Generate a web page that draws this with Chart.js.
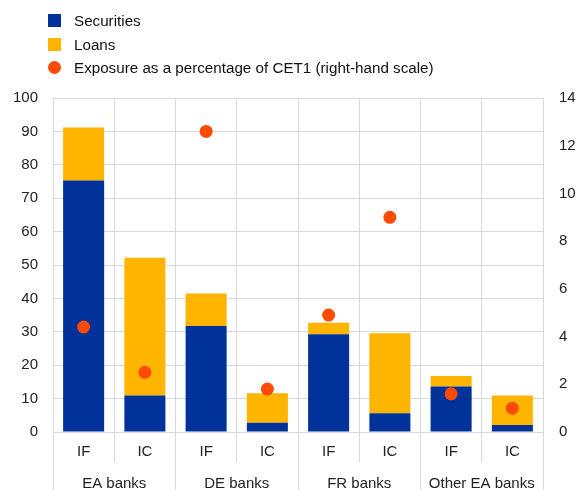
<!DOCTYPE html>
<html>
<head>
<meta charset="utf-8">
<script src="https://cdn.jsdelivr.net/npm/chart.js@4"></script>
<style>
	body{margin:0;background:#fff;}
	#wrap{position:relative;width:579px;height:490px;}
	#leyenda{position:absolute;left:48px;top:9px;font-family:"Liberation Sans",Arial,sans-serif;font-size:15.2px;color:#111;}
	.fila{height:23.5px;display:flex;align-items:center;}
	.caja{width:13px;height:13px;margin-right:13px;}
	.punto{width:13px;height:13px;border-radius:50%;margin-right:13px;}
</style>
</head>
<body>
<div id="wrap">
	<canvas id="canva" width="579" height="490"></canvas>
	<div id="leyenda">
		<div class="fila"><div class="caja" style="background:#003299"></div>Securities</div>
		<div class="fila"><div class="caja" style="background:#FFB400"></div>Loans</div>
		<div class="fila"><div class="punto" style="background:#FF4B00"></div>Exposure as a percentage of CET1 (right-hand scale)</div>
	</div>
</div>
<script>
// categorias y grupos del eje x
let categorias = ['IF','IC','IF','IC','IF','IC','IF','IC'];
let grupos = ['EA banks','DE banks','FR banks','Other EA banks'];

// valores de las barras (escala izquierda)
let valores_securities = [75.3, 10.9, 31.7, 2.8, 29.3, 5.6, 13.6, 2.1];
let valores_loans = [15.9, 41.3, 9.8, 8.8, 3.4, 24.0, 3.2, 8.8];

// exposicion como % del CET1 (escala derecha)
let valores_cet1 = [4.4, 2.5, 12.6, 1.8, 4.9, 9.0, 1.6, 1.0];

let gris = '#d9d9d9';
let fuente = {family:'"Liberation Sans", Arial, sans-serif', size:15};

const ctx = document.getElementById('canva').getContext('2d');

const grafico = new Chart(ctx, {
	type: 'bar',
	data: {
		labels: categorias,
		datasets: [{
			label: 'Exposure as a percentage of CET1 (right-hand scale)',
			type: 'line',
			data: valores_cet1,
			yAxisID: 'y1',
			showLine: false,
			pointRadius: 6.5,
			pointBackgroundColor: '#FF4B00',
			pointBorderWidth: 0,
			order: 0
		},{
			label: 'Securities',
			data: valores_securities,
			backgroundColor: '#003299',
			order: 1
		},{
			label: 'Loans',
			data: valores_loans,
			backgroundColor: '#FFB400',
			order: 1
		}]
	},
	options: {
		responsive: false,
		animation: false,
		layout: {padding: {top: 98, left: 0, right: 0, bottom: 0}},
		datasets: {bar: {categoryPercentage: 1, barPercentage: 0.67}},
		plugins: {legend: {display: false}, tooltip: {enabled: false}},
		scales: {
			x: {
				stacked: true,
				position: 'bottom',
				grid: {offset: true, color: gris, tickLength: 30},
				border: {color: gris},
				ticks: {font: fuente, color: '#222', padding: -19},
				afterFit: s => { s.height = 30; }
			},
			x2: {
				type: 'category',
				labels: grupos,
				position: 'bottom',
				grid: {offset: true, color: gris, tickLength: 28, drawOnChartArea: false},
				border: {display: false},
				ticks: {font: fuente, color: '#222', padding: -15},
				afterFit: s => { s.height = 28; }
			},
			y: {
				stacked: true,
				min: 0,
				max: 100,
				ticks: {stepSize: 10, font: fuente, color: '#222', padding: 15},
				grid: {color: gris, drawTicks: false},
				border: {color: gris},
				afterFit: s => { s.width = 53; }
			},
			y1: {
				position: 'right',
				min: 0,
				max: 14,
				ticks: {stepSize: 2, font: fuente, color: '#222', padding: 16},
				grid: {drawOnChartArea: false, drawTicks: false},
				border: {display: false},
				afterFit: s => { s.width = 36; }
			}
		}
	}
});
</script>
</body>
</html>
